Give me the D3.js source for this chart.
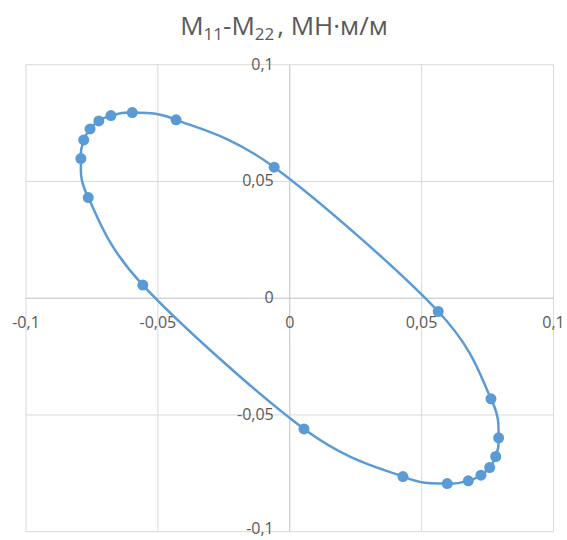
<!DOCTYPE html>
<html>
<head>
<meta charset="utf-8">
<script src="https://cdn.jsdelivr.net/npm/d3@7"></script>
<style>
  body { margin: 0; background: #fff; }
  text { font-family: "Open Sans", "Noto Sans", sans-serif; fill: #595959; }
</style>
</head>
<body>
<div id="chart"></div>
<script>
// Données (ordre le long de la courbe fermée)
const xValues = [-0.0059, -0.0431, -0.0597, -0.0678, -0.0724, -0.0757, -0.0781, -0.0792, -0.0764, -0.0557,
                 0.0054, 0.0429, 0.0597, 0.0677, 0.0725, 0.0758, 0.0781, 0.0792, 0.0763, 0.0563];
const yValues = [0.0561, 0.0764, 0.0795, 0.0782, 0.0759, 0.0725, 0.0678, 0.0598, 0.0431, 0.0056,
                 -0.0560, -0.0764, -0.0794, -0.0782, -0.0758, -0.0725, -0.0678, -0.0598, -0.0431, -0.0057];
const xTicks = [-0.1, -0.05, 0, 0.05, 0.1];
const yTicks = [-0.1, -0.05, 0, 0.05, 0.1];

const width = 567, height = 540;
const color = "#5b9bd5";
const fmt = v => String(+v.toFixed(2)).replace(".", ",");

const svg = d3.select("#chart").append("svg")
    .attr("width", width)
    .attr("height", height);

const x = d3.scaleLinear().domain([-0.1, 0.1]).range([26, 553.5]);
const y = d3.scaleLinear().domain([-0.1, 0.1]).range([531.7, 64.7]);

// Titre
const title = svg.append("text")
    .attr("x", 284)
    .attr("y", 35)
    .attr("text-anchor", "middle")
    .style("font-size", "26px");
title.append("tspan").text("M");
title.append("tspan").text("11").style("font-size", "17px").attr("dy", 5);
title.append("tspan").text("-M").attr("dy", -5);
title.append("tspan").text("22").style("font-size", "17px").attr("dy", 5);
title.append("tspan").text(", МН·м/м").attr("dy", -5).attr("dx", 3);

// Grille
const grid = svg.append("g");
grid.selectAll(".vgrid")
    .data(xTicks)
    .enter().append("line")
    .attr("x1", d => x(d)).attr("x2", d => x(d))
    .attr("y1", y(0.1)).attr("y2", y(-0.1))
    .attr("stroke", d => d === 0 ? "#bfbfbf" : "#d9d9d9")
    .attr("stroke-width", 1);
grid.selectAll(".hgrid")
    .data(yTicks)
    .enter().append("line")
    .attr("y1", d => y(d)).attr("y2", d => y(d))
    .attr("x1", x(-0.1)).attr("x2", x(0.1))
    .attr("stroke", d => d === 0 ? "#bfbfbf" : "#d9d9d9")
    .attr("stroke-width", 1);

// Étiquettes des axes
svg.selectAll(".xlab")
    .data(xTicks)
    .enter().append("text")
    .attr("x", d => x(d))
    .attr("y", y(0) + 24)
    .attr("text-anchor", "middle")
    .attr("dominant-baseline", "central")
    .style("font-size", "16px")
    .text(fmt);

svg.selectAll(".ylab")
    .data(yTicks)
    .enter().append("text")
    .attr("x", x(0) - 16)
    .attr("y", d => Math.min(y(d) - 1, 528))
    .attr("text-anchor", "end")
    .attr("dominant-baseline", "central")
    .style("font-size", "16px")
    .text(fmt);

// Courbe lissée
const pts = xValues.map((v, i) => [v, yValues[i]]);
const line = d3.line()
    .x(d => x(d[0]))
    .y(d => y(d[1]))
    .curve(d3.curveCardinalClosed.tension(0));

svg.append("path")
    .datum(pts)
    .attr("d", line)
    .attr("fill", "none")
    .attr("stroke", color)
    .attr("stroke-width", 2.5);

svg.selectAll(".pt")
    .data(pts)
    .enter().append("circle")
    .attr("cx", d => x(d[0]))
    .attr("cy", d => y(d[1]))
    .attr("r", 5.5)
    .attr("fill", color);
</script>
</body>
</html>
